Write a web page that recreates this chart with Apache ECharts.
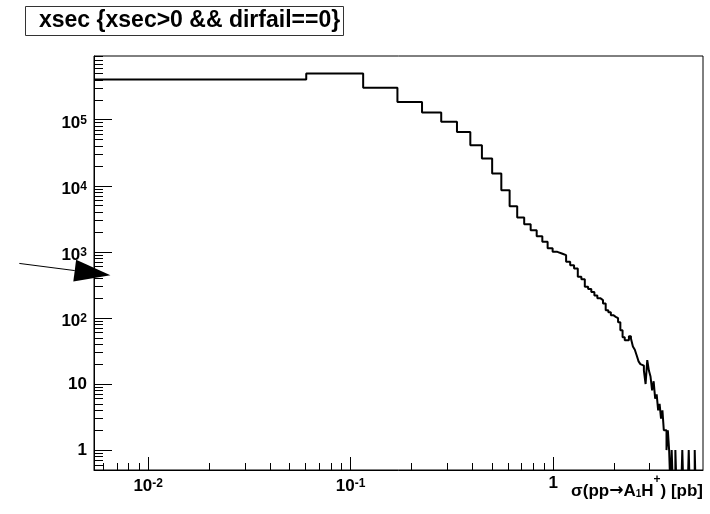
<!DOCTYPE html>
<html>
<head>
<meta charset="utf-8">
<title>xsec</title>
<script src="https://cdn.jsdelivr.net/npm/echarts@6/dist/echarts.min.js"></script>
<style>
  html, body { margin: 0; padding: 0; background: #fff; }
  #main { width: 710px; height: 514px; }
</style>
</head>
<body>
<div id="main"></div>
<script>
// 100 equal-width bins, low edge and width of the histogram
var binLow = 0.0054;
var binWidth = 0.05495;

// bin contents (entries)
var counts = [
  405000, 500000, 303000, 186000, 128500, 92700, 65400, 41100, 25900, 15300,
  8570, 4910, 3310, 2620, 2130, 1730, 1420, 1130, 1000, 946,
  891, 706, 629, 561, 419, 386, 296, 273, 246, 218,
  199, 186, 166, 131, 122, 110, 104, 99, 86, 65,
  51, 46, 46, 53, 49, 37, 33, 27, 22, 20,
  19, 16, 10, 23, 16, 13, 8, 11, 6, 7,
  4, 5, 3, 4, 2, 2, 1, 2, 1, 0,
  1, 0, 0, 1, 0, 0, 0, 0, 0, 1,
  0, 0, 0, 0, 0, 1, 0, 0, 0, 0,
  0, 1, 0, 0, 0, 0, 0, 0, 0, 0
];

// axis ranges and ticks
var xMin = 0.0054, xMax = 5.5;
var yMin = 0.5, yMax = 9.2e5;
var xMajorTicks = [0.01, 0.1, 1];
var xMinorTicks = [0.006, 0.007, 0.008, 0.009,
  0.02, 0.03, 0.04, 0.05, 0.06, 0.07, 0.08, 0.09,
  0.2, 0.3, 0.4, 0.5, 0.6, 0.7, 0.8, 0.9,
  2, 3, 4, 5];
var yMajorTicks = [1, 10, 100, 1000, 10000, 100000];
var yMinorTicks = [0.5, 0.6, 0.7, 0.8, 0.9,
  2, 3, 4, 5, 6, 7, 8, 9,
  20, 30, 40, 50, 60, 70, 80, 90,
  200, 300, 400, 500, 600, 700, 800, 900,
  2000, 3000, 4000, 5000, 6000, 7000, 8000, 9000,
  20000, 30000, 40000, 50000, 60000, 70000, 80000, 90000,
  200000, 300000, 400000, 500000, 600000, 700000, 800000, 900000];

// arrow annotation (data coords): tail, tip
var arrowFrom = [0.00231, 668];
var arrowTo = [0.00651, 444];

var FONT = "'Liberation Sans', Arial, sans-serif";

// histogram outline points: [lowEdge, content], plus closing upper edge
var histData = [];
for (var k = 0; k < counts.length; k++) {
  // empty bins drop to below the frame on a log axis
  histData.push([binLow + k * binWidth, counts[k] > 0 ? counts[k] : yMin * 0.5]);
}
histData.push([binLow + counts.length * binWidth, counts[counts.length - 1] > 0 ? counts[counts.length - 1] : yMin * 0.5]);

function powLabel(v) {
  var e = Math.round(Math.log(v) / Math.LN10);
  if (e === 0) return "{n|1}";
  if (e === 1) return "{n|10}";
  return "{b|10}{s|" + e + "}";
}

var labelRich = {
  n: { fontFamily: FONT, fontWeight: "bold", fontSize: 17, lineHeight: 20, color: "#000" },
  b: { fontFamily: FONT, fontWeight: "bold", fontSize: 17, lineHeight: 20, padding: [7, 0, 0, 0], color: "#000" },
  s: { fontFamily: FONT, fontWeight: "bold", fontSize: 12, lineHeight: 12, padding: [5, 0, 0, 0], verticalAlign: "top", color: "#000" }
};

var myChart = echarts.init(document.getElementById("main"));

var option = {
  animation: false,
  backgroundColor: "#fff",
  title: {
    text: "xsec {xsec>0 && dirfail==0}",
    left: 25,
    top: 6,
    padding: [3, 4, 3, 14],
    borderColor: "#333",
    borderWidth: 1,
    textStyle: {
      fontFamily: FONT,
      fontWeight: "bold",
      fontSize: 23,
      lineHeight: 24,
      color: "#000"
    }
  },
  grid: {
    left: 94,
    right: 7,
    top: 56,
    bottom: 44,
    show: true,
    borderColor: "#000",
    borderWidth: 1,
    containLabel: false
  },
  xAxis: [
    {
      type: "log",
      position: "bottom",
      min: xMin,
      max: xMax,
      name: "{t|σ(pp}{ar|→}{t|A}{sub|1}{t|H}{sup|+}{t|) [pb]}",
      nameLocation: "end",
      nameGap: 0,
      nameMoveOverlap: false,
      nameTextStyle: {
        align: "right",
        verticalAlign: "top",
        padding: [2, 0, 0, 0],
        rich: {
          t: { fontFamily: FONT, fontWeight: "bold", fontSize: 17, lineHeight: 38, color: "#000" },
          ar: { fontFamily: "'DejaVu Sans'", fontWeight: "bold", fontSize: 17, lineHeight: 38, color: "#000" },
          sub: { fontFamily: FONT, fontWeight: "bold", fontSize: 10, lineHeight: 10, padding: [6, 0, 0, 0], color: "#000" },
          sup: { fontFamily: FONT, fontWeight: "bold", fontSize: 12, lineHeight: 12, padding: [2, 0, 0, 0], verticalAlign: "top", color: "#000" }
        }
      },
      axisLine: { show: true, lineStyle: { color: "#000", width: 1 } },
      axisTick: { show: true, inside: true, length: 13, customValues: xMajorTicks, lineStyle: { color: "#000" } },
      axisLabel: { customValues: xMajorTicks, margin: 3, formatter: powLabel, rich: labelRich },
      splitLine: { show: false },
      minorTick: { show: false }
    },
    {
      type: "log",
      position: "bottom",
      min: xMin,
      max: xMax,
      axisLine: { show: false },
      axisTick: { show: true, inside: true, length: 7, customValues: xMinorTicks, lineStyle: { color: "#000" } },
      axisLabel: { show: false },
      splitLine: { show: false }
    }
  ],
  yAxis: [
    {
      type: "log",
      position: "left",
      min: yMin,
      max: yMax,
      axisLine: { show: true, lineStyle: { color: "#000", width: 1 } },
      axisTick: { show: true, inside: true, length: 18, customValues: yMajorTicks, lineStyle: { color: "#000" } },
      axisLabel: { customValues: yMajorTicks, margin: 7, formatter: powLabel, rich: labelRich },
      splitLine: { show: false },
      minorTick: { show: false }
    },
    {
      type: "log",
      position: "left",
      min: yMin,
      max: yMax,
      axisLine: { show: false },
      axisTick: { show: true, inside: true, length: 9, customValues: yMinorTicks, lineStyle: { color: "#000" } },
      axisLabel: { show: false },
      splitLine: { show: false }
    }
  ],
  series: [
    {
      name: "xsec",
      type: "line",
      xAxisIndex: 0,
      yAxisIndex: 0,
      step: "end",
      symbol: "none",
      clip: true,
      lineStyle: { color: "#000", width: 2 },
      data: histData
    },
    {
      // arrow pointing at the y axis
      type: "custom",
      xAxisIndex: 0,
      yAxisIndex: 0,
      clip: false,
      silent: true,
      encode: { x: [0, 2], y: [1, 3] },
      data: [arrowFrom.concat(arrowTo)],
      renderItem: function (params, api) {
        var a = api.coord([api.value(0), api.value(1)]);
        var b = api.coord([api.value(2), api.value(3)]);
        var dx = b[0] - a[0], dy = b[1] - a[1];
        var len = Math.sqrt(dx * dx + dy * dy);
        var ux = dx / len, uy = dy / len;
        var headLen = 36, headHalf = 11;
        var bx = b[0] - ux * headLen, by = b[1] - uy * headLen;
        return {
          type: "group",
          children: [
            { type: "line", shape: { x1: a[0], y1: a[1], x2: bx, y2: by }, style: { stroke: "#000", lineWidth: 1 } },
            {
              type: "polygon",
              shape: { points: [[b[0], b[1]], [bx - uy * headHalf, by + ux * headHalf], [bx + uy * headHalf, by - ux * headHalf]] },
              style: { fill: "#000" }
            }
          ]
        };
      }
    }
  ]
};

myChart.setOption(option);
</script>
</body>
</html>
